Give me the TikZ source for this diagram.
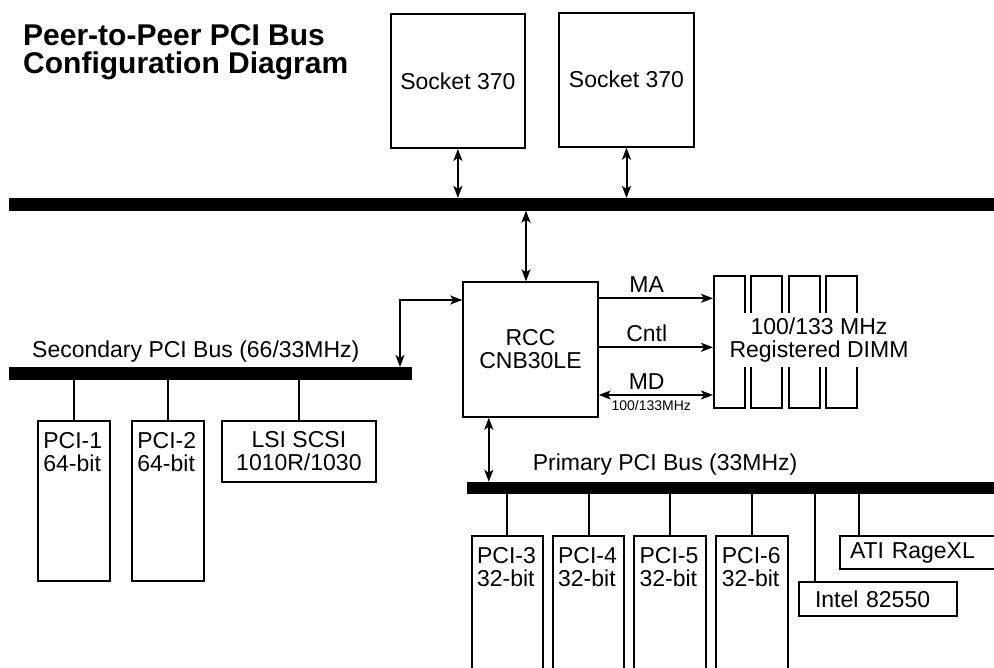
\documentclass[tikz,border=0pt]{standalone}
\usepackage{fontspec}
\setmainfont{Liberation Sans}
\usetikzlibrary{positioning,arrows.meta}

\begin{document}
\begin{tikzpicture}[
  x=1pt, y=-1pt,
  >={Stealth[length=12pt,width=9pt,inset=3pt]},
  every node/.style={font=\fontsize{23}{23}\selectfont},
  box/.style={
    rectangle, draw=black, line width=2pt, inner sep=0pt,
    align=center
  },
  slotbox/.style={
    box, minimum width=72pt
  },
  slottag/.style={
    anchor=north west, inner sep=0pt, align=left
  },
  dimmbox/.style={
    box, minimum width=31pt, minimum height=132pt
  },
  bus/.style={
    rectangle, fill=black, inner sep=0pt, outer sep=0pt
  },
  arr/.style={draw=black, ->, line width=2pt},
  dbl/.style={draw=black, <->, line width=2pt},
  drop/.style={draw=black, line width=2pt},
  lbl/.style={inner sep=4.5pt}
]
\useasboundingbox (0,0) rectangle (994,668);
\clip (0,0) rectangle (994,668);

%% Title
\node[font=\fontsize{30}{28}\selectfont\bfseries, align=left,
      anchor=north west, inner sep=0pt] (title) at (23,24)
  {Peer-to-Peer PCI Bus\\Configuration Diagram};

%% CPUs and host bus
\node[box, minimum width=134pt, minimum height=134pt] (sock1) at (457.9,80.9) {Socket 370};
\node[box, minimum width=135pt, minimum height=134pt] (sock2) at (626.5,79.7) {Socket 370};
\node[bus, minimum width=990.7pt, minimum height=12.7pt] (hostbus) at (504.65,204.3) {};

\draw[dbl] (sock1.south) -- (sock1.south |- hostbus.north);
\draw[dbl] (sock2.south) -- (sock2.south |- hostbus.north);

%% North bridge
\node[box, minimum width=134.4pt, minimum height=134.4pt] (rcc) at (530.5,349.5) {RCC\\CNB30LE};
\draw[dbl] ([xshift=-4.5pt]rcc.north) -- ([xshift=-4.5pt]rcc.north |- hostbus.south);

%% Memory
\foreach \i in {0,...,3}
  \node[dimmbox] (dimm\i) at (729.5+37.3*\i,341.7) {};
\node[fill=white, inner sep=4.5pt, align=center] (dimmtxt) at (819,340)
  {100/133 MHz\\Registered DIMM};

\draw[arr] ([yshift=51.2pt]rcc.east) -- ([yshift=51.2pt]rcc.east -| dimm0.west)
  node[lbl, above, pos=0.42] (ma) {MA};
\draw[arr] ([yshift=2.2pt]rcc.east) -- ([yshift=2.2pt]rcc.east -| dimm0.west)
  node[lbl, above, pos=0.42] (cntl) {Cntl};
\draw[dbl] ([yshift=-45.5pt]rcc.east) -- ([yshift=-45.5pt]rcc.east -| dimm0.west)
  node[lbl, above, pos=0.42] (md) {MD}
  node[below, pos=0.46, inner sep=4pt, font=\fontsize{14}{14}\selectfont] (mdclk) {100/133MHz};

%% Secondary PCI bus
\node[bus, minimum width=402.7pt, minimum height=13pt] (secbus) at (210.65,373.5) {};
\node[anchor=south west, inner sep=0pt] (seclbl) at (32,362) {Secondary PCI Bus (66/33MHz)};
\draw[dbl] ([xshift=-12pt]secbus.north east) |- ([yshift=49.5pt]rcc.west);

\node[slotbox, minimum height=160pt] (pci1) at (73.9,501) {};
\node[slotbox, minimum height=160pt] (pci2) at (167.9,501) {};
\node[slottag] (pci1tag) at ([shift={(6.3,12.4)}]pci1.north west) {PCI-1\\64-bit};
\node[slottag] (pci2tag) at ([shift={(6.3,12.4)}]pci2.north west) {PCI-2\\64-bit};
\node[box, minimum width=153.7pt, minimum height=60.7pt] (lsi) at (298.9,451.4) {LSI SCSI\\1010R/1030};

\draw[drop] (pci1.north) -- (pci1.north |- secbus.south);
\draw[drop] (pci2.north) -- (pci2.north |- secbus.south);
\draw[drop] (lsi.north) -- (lsi.north |- secbus.south);

%% Primary PCI bus
\node[bus, minimum width=533.5pt, minimum height=12.5pt] (primbus) at (733.25,488) {};
\node[anchor=south west, inner sep=0pt] (primlbl) at (532.6,475) {Primary PCI Bus (33MHz)};
\draw[dbl] ([xshift=-41.7pt]rcc.south) -- ([xshift=-41.7pt]rcc.south |- primbus.north);

\foreach \n/\x in {3/507.4,4/588.5,5/669.9,6/752.2}{
  \node[slotbox, minimum width=71.7pt, minimum height=164pt] (pci\n) at (\x,618) {};
  \node[slottag] (pci\n tag) at ([shift={(6.3,12.4)}]pci\n.north west) {PCI-\n\\32-bit};
  \draw[drop] (pci\n.north) -- (pci\n.north |- primbus.south);
}

\node[box, minimum height=33.7pt, text width=126pt, inner xsep=15.6pt, align=left] (intel) at (878,598.9) {Intel 82550};
\node[box, minimum height=33pt, text width=150pt, inner xsep=10pt, align=left] (ati) at (925,552.5) {ATI RageXL};

\draw[drop] ([xshift=16.6pt]intel.north west) -- ([xshift=16.6pt]intel.north west |- primbus.south);
\draw[drop] ([xshift=20pt]ati.north west) -- ([xshift=20pt]ati.north west |- primbus.south);

\end{tikzpicture}
\end{document}
